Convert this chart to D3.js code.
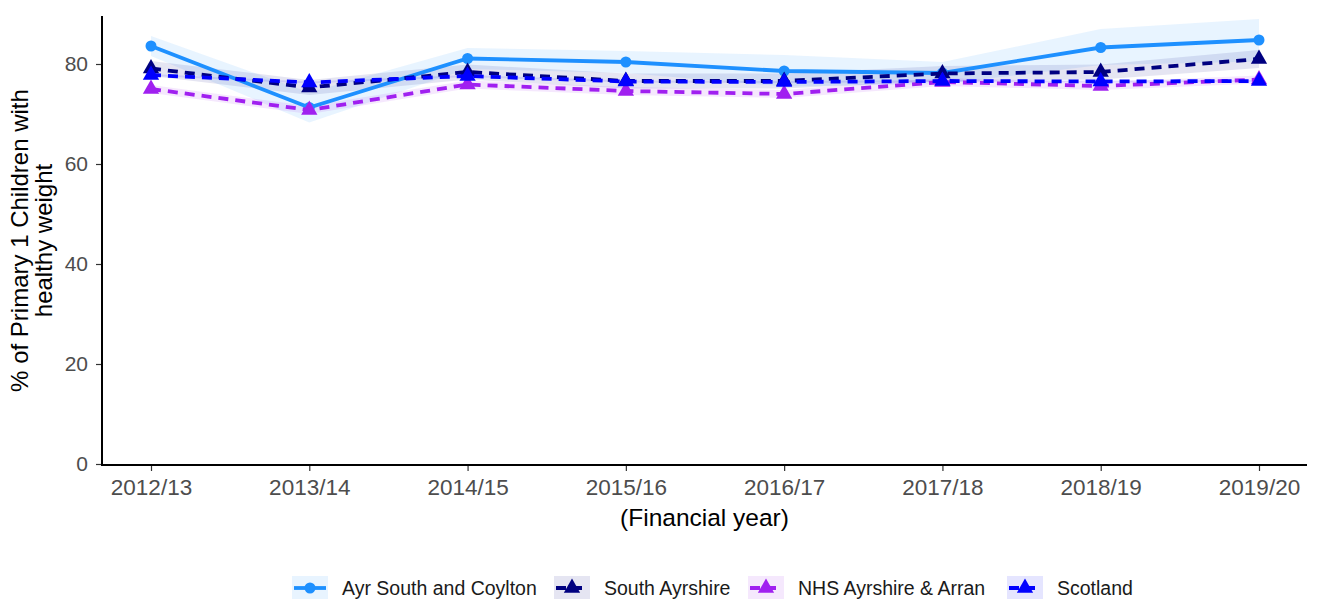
<!DOCTYPE html>
<html><head><meta charset="utf-8">
<script src="https://cdn.jsdelivr.net/npm/d3@7"></script>
<style>body{margin:0;background:#fff;} svg{display:block;font-family:"Liberation Sans",Arial,Helvetica,sans-serif;}</style>
</head><body>
<svg id="chart" width="1317" height="599"></svg>
<script>
const years = ["2012/13","2013/14","2014/15","2015/16","2016/17","2017/18","2018/19","2019/20"];
const yTicks = [0,20,40,60,80];
const seriesNames = ["Ayr South and Coylton","South Ayrshire","NHS Ayrshire & Arran","Scotland"];
const ayrValues   = [83.6,71.3,81.1,80.4,78.6,78.2,83.3,84.8];
const ayrLower    = [81.6,68.3,79.0,78.2,75.5,76.0,79.8,80.5];
const ayrUpper    = [85.6,74.3,83.2,82.6,81.8,80.4,87.0,89.0];
const sayValues   = [79.1,75.3,78.4,76.6,76.6,78.1,78.4,81.0];
const sayLower    = [77.6,73.8,76.9,75.1,75.1,76.6,76.9,79.2];
const sayUpper    = [80.6,76.8,79.9,78.1,78.1,79.6,79.9,82.8];
const nhsValues   = [75.0,70.8,75.9,74.6,74.0,76.4,75.6,76.9];
const nhsLower    = [74.2,70.0,75.1,73.8,73.2,75.6,74.8,76.1];
const nhsUpper    = [75.8,71.6,76.7,75.4,74.8,77.2,76.4,77.7];
const scoValues   = [77.8,76.3,77.6,76.5,76.4,76.6,76.5,76.6];
const scoLower    = [77.6,76.1,77.4,76.3,76.2,76.4,76.3,76.4];
const scoUpper    = [78.0,76.5,77.8,76.7,76.6,76.8,76.7,76.8];
const colors = ["#1E90FF","#000080","#A020F0","#0000FF"];
const dashes = [null,"10,7","10,7","10,7"];
const shapes = ["circle","triangle","triangle","triangle"];

const series = [
  {name:seriesNames[0], v:ayrValues, lo:ayrLower, hi:ayrUpper},
  {name:seriesNames[1], v:sayValues, lo:sayLower, hi:sayUpper},
  {name:seriesNames[2], v:nhsValues, lo:nhsLower, hi:nhsUpper},
  {name:seriesNames[3], v:scoValues, lo:scoLower, hi:scoUpper}
];

const svg = d3.select("#chart");
const pL=102, pR=1307, pT=16, pB=465;
const x = d3.scalePoint().domain(years).range([151,1259]);
const y = d3.scaleLinear().domain([0,80]).range([464,64]);

// bands
series.forEach((s,i)=>{
  const area = d3.area().x((d,j)=>x(years[j])).y0((d,j)=>y(s.lo[j])).y1((d,j)=>y(s.hi[j]));
  svg.append("path").datum(s.v).attr("d",area).attr("fill",colors[i]).attr("fill-opacity",0.1);
});
// lines & markers
const tri = d3.symbol().type(d3.symbolTriangle).size(115);
series.forEach((s,i)=>{
  const line = d3.line().x((d,j)=>x(years[j])).y(d=>y(d));
  const p = svg.append("path").datum(s.v).attr("d",line).attr("fill","none")
    .attr("stroke",colors[i]).attr("stroke-width",3.8);
  if(dashes[i]) p.attr("stroke-dasharray",dashes[i]);
  s.v.forEach((d,j)=>{
    if(shapes[i]==="circle"){
      svg.append("circle").attr("cx",x(years[j])).attr("cy",y(d)).attr("r",5.5).attr("fill",colors[i]);
    } else {
      svg.append("path").attr("d",tri).attr("transform",`translate(${x(years[j])},${y(d)})`).attr("fill",colors[i]);
    }
  });
});

// axes
const yAxis = svg.append("g").attr("transform",`translate(${pL},0)`)
  .call(d3.axisLeft(y).tickValues(yTicks).tickSize(6).tickPadding(8).tickSizeOuter(0));
yAxis.select(".domain").remove();
yAxis.selectAll("text").attr("font-size",21).attr("fill","#4d4d4d").attr("font-family","Liberation Sans, Arial, sans-serif");
yAxis.selectAll("line").attr("stroke","#333").attr("stroke-width",1.2);
const xAxis = svg.append("g").attr("transform",`translate(0,${pB})`)
  .call(d3.axisBottom(x).tickSize(6).tickPadding(8).tickSizeOuter(0));
xAxis.select(".domain").remove();
xAxis.selectAll("text").attr("font-size",22.5).attr("fill","#4d4d4d").attr("font-family","Liberation Sans, Arial, sans-serif");
xAxis.selectAll("line").attr("stroke","#333").attr("stroke-width",1.2);
svg.append("line").attr("x1",pL).attr("x2",pL).attr("y1",pT).attr("y2",pB+1).attr("stroke","#000").attr("stroke-width",2);
svg.append("line").attr("x1",pL-1).attr("x2",pR).attr("y1",pB).attr("y2",pB).attr("stroke","#000").attr("stroke-width",2);

// titles
svg.append("text").attr("x",(pL+pR)/2).attr("y",526).attr("text-anchor","middle")
  .attr("font-size",24.5).attr("fill","#000").text("(Financial year)");
const yt = svg.append("text").attr("transform",`translate(28,${(pT+pB)/2}) rotate(-90)`)
  .attr("text-anchor","middle").attr("font-size",24).attr("fill","#000");
yt.append("tspan").attr("x",0).attr("dy",0).text("% of Primary 1 Children with");
yt.append("tspan").attr("x",0).attr("dy",24).text("healthy weight");

// legend
const legX = [292,554,748,1007];
series.forEach((s,i)=>{
  const g = svg.append("g").attr("transform",`translate(${legX[i]},576)`);
  g.append("rect").attr("width",36).attr("height",28).attr("fill",colors[i]).attr("fill-opacity",0.1);
  const l = g.append("line").attr("x1",2).attr("x2",34).attr("y1",12).attr("y2",12)
    .attr("stroke",colors[i]).attr("stroke-width",3.8);
  if(dashes[i]) l.attr("stroke-dasharray","10,6").attr("x1",2).attr("x2",34);
  if(shapes[i]==="circle") g.append("circle").attr("cx",18).attr("cy",12).attr("r",5.5).attr("fill",colors[i]);
  else g.append("path").attr("d",tri).attr("transform","translate(18,12)").attr("fill",colors[i]);
  g.append("text").attr("x",50).attr("y",19).attr("font-size",19.5).attr("fill","#1a1a1a").text(s.name);
});
</script>
</body></html>
